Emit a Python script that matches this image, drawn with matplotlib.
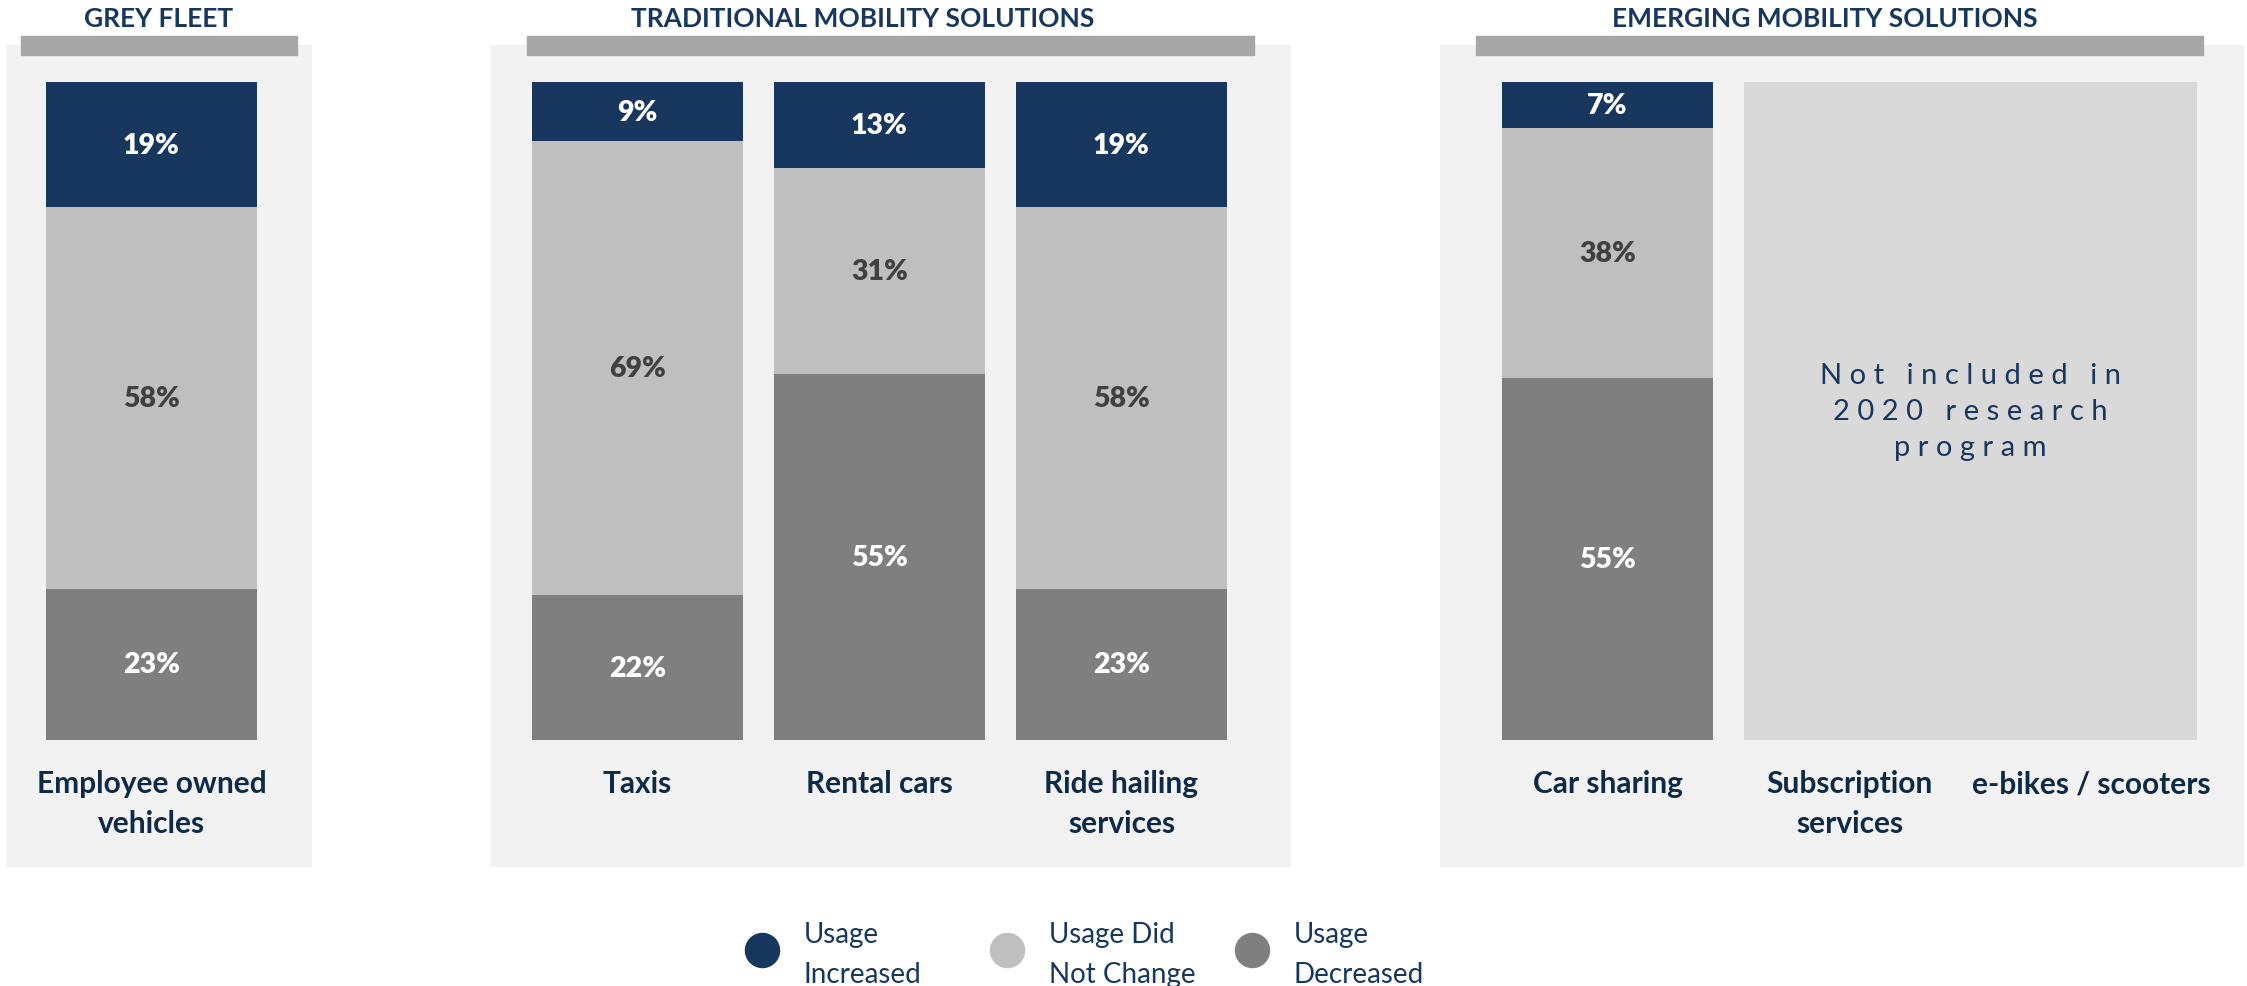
import numpy as np
import matplotlib
matplotlib.use('Agg')
import matplotlib.pyplot as plt
from matplotlib.patches import Rectangle

plt.rcParams['font.family'] = ['Lato', 'DejaVu Sans']

# data
group_titles = ['GREY FLEET', 'TRADITIONAL MOBILITY SOLUTIONS', 'EMERGING MOBILITY SOLUTIONS']
categories = [
    ['Employee owned\nvehicles'],
    ['Taxis', 'Rental cars', 'Ride hailing\nservices'],
    ['Car sharing', 'Subscription\nservices', 'e-bikes / scooters'],
]
usage_increased = [[19], [9, 13, 19], [7]]
usage_no_change = [[58], [69, 31, 58], [38]]
usage_decreased = [[23], [22, 55, 23], [55]]
series_labels = ['Usage\nIncreased', 'Usage Did\nNot Change', 'Usage\nDecreased']
not_included_note = 'Not included in\n2020 research\nprogram'

NAVY = '#17375E'
LIGHT = '#BFBFBF'
DARK = '#7F7F7F'
LABEL_COLOR = '#0D2A47'
colors = [NAVY, LIGHT, DARK]

W, H = 2247, 987
fig = plt.figure(figsize=(W / 100, H / 100), dpi=100)


def fx(x):
    return x / W


def fy(y):
    return 1 - y / H


def fig_rect(x0, y0, x1, y1, color):
    fig.patches.append(Rectangle((fx(x0), fy(y1)), fx(x1 - x0), (y1 - y0) / H,
                                 transform=fig.transFigure, color=color, zorder=-5))


# panel layout in pixels
panels = [(7, 311), (491, 1290), (1440, 2243)]
headers = [(21, 297), (527, 1254), (1476, 2203)]
title_x = [159, 863, 1825]
bar_left = [46, 532, 1502]
bar_w = 0.872
pitch = 242
bar_top, bar_bottom = 83, 741

for g in range(3):
    fig_rect(panels[g][0], 46, panels[g][1], 867, '#F2F2F2')
    fig_rect(headers[g][0], 37, headers[g][1], 56, '#A6A6A6')
    fig.text(fx(title_x[g]), fy(19), group_titles[g], ha='center', va='center',
             fontsize=19, fontweight='bold', color=NAVY)

    n = len(categories[g])
    x = np.arange(n)
    width_px = pitch * (n - 1) + 211
    ax = fig.add_axes([fx(bar_left[g]), fy(bar_bottom), fx(width_px),
                       (bar_bottom - bar_top) / H])
    ax.set_xlim(-bar_w / 2, n - 1 + bar_w / 2)
    ax.set_ylim(0, 100)
    ax.patch.set_visible(False)
    for s in ax.spines.values():
        s.set_visible(False)
    ax.set_yticks([])
    ax.set_xticks(x, categories[g])
    for lab in ax.get_xticklabels():
        lab.set_fontsize(21.5)
        lab.set_fontweight('bold')
        lab.set_color(LABEL_COLOR)
        lab.set_verticalalignment('top')
        lab.set_linespacing(1.5)
    ax.tick_params(axis='x', length=0, pad=21)

    dec = np.array(usage_decreased[g], dtype=float)
    nc = np.array(usage_no_change[g], dtype=float)
    inc = np.array(usage_increased[g], dtype=float)
    total = dec + nc + inc
    xm = x[:len(dec)]
    bottom = np.zeros(len(dec))
    for vals, col in [(dec, DARK), (nc, LIGHT), (inc, NAVY)]:
        h = vals / total * 100
        ax.bar(xm, h, bar_w, bottom=bottom, color=col, linewidth=0)
        for xi, b, hi, v in zip(xm, bottom, h, vals):
            ax.text(xi, b + hi / 2, f'{v:.0f}%', ha='center', va='center',
                    fontsize=20.5, fontweight='heavy',
                    color='#404040' if col == LIGHT else 'white')
        bottom = bottom + h

    if len(dec) < n:
        # categories without data share one grey block
        first = len(dec)
        left = first - bar_w / 2
        right = n - 1 + bar_w / 2
        ax.bar((left + right) / 2, 100, right - left, color='#D9D9D9', linewidth=0)
        spaced = '\n'.join('   '.join(' '.join(word) for word in line.split(' '))
                           for line in not_included_note.split('\n'))
        ax.text((left + right) / 2, 50, spaced, ha='center', va='center',
                fontsize=21, color=NAVY, linespacing=1.48)

# legend
leg = fig.add_axes([fx(762), fy(987), fx(3 * 245), 72 / H])
leg.set_xlim(0, 3)
leg.set_ylim(-1, 1)
leg.axis('off')
ys = 1 - 2 * (951 - 915) / 72
yt = 1 - 2 * (955 - 915) / 72
for i, (lab, col) in enumerate(zip(series_labels, colors)):
    leg.scatter([i], [ys], s=34 ** 2 * 0.52, color=col, clip_on=False)
    leg.text(i + 0.17, yt, lab, ha='left', va='center', fontsize=20,
             color=NAVY, linespacing=1.7, clip_on=False)

fig.savefig('out.png', dpi=100)
